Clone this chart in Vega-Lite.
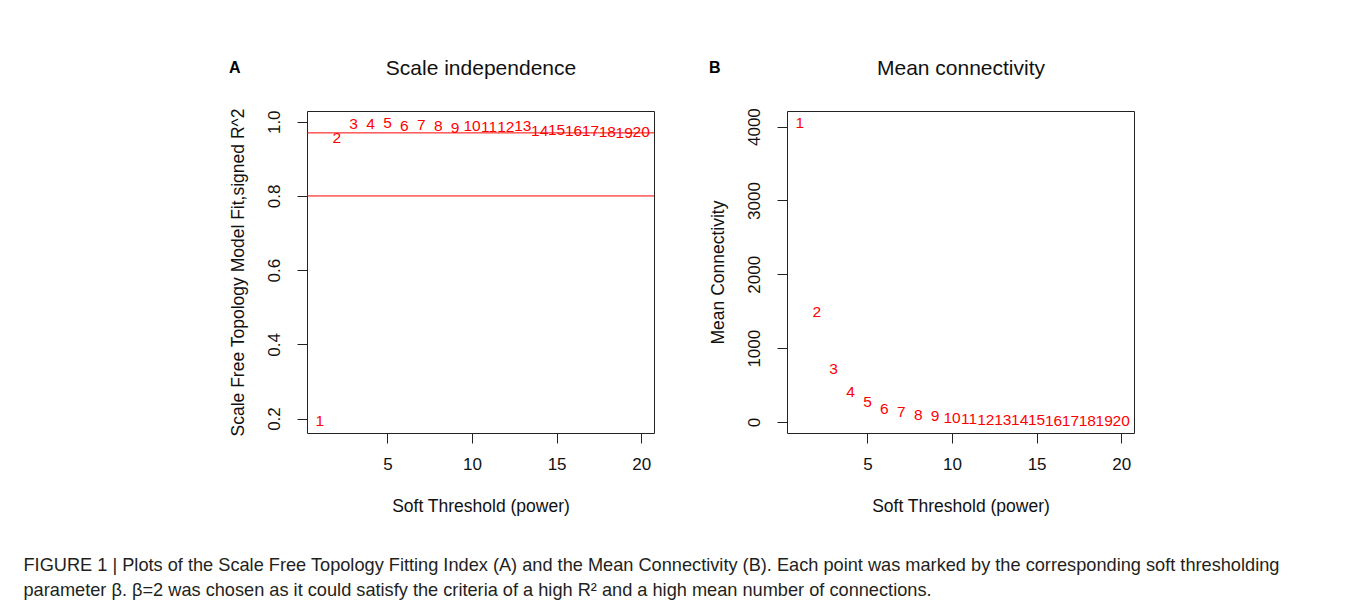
{
  "$schema": "https://vega.github.io/schema/vega-lite/v6.json",
  "background": "white",
  "padding": {"left": 23, "top": 56, "right": 10, "bottom": 5},
  "bounds": "flush",
  "spacing": 133,
  "datasets": {
    "sft": [
      {"power": 1, "r2": 0.193, "k": 4050},
      {"power": 2, "r2": 0.957, "k": 1486},
      {"power": 3, "r2": 0.993, "k": 716},
      {"power": 4, "r2": 0.993, "k": 400},
      {"power": 5, "r2": 0.997, "k": 265},
      {"power": 6, "r2": 0.989, "k": 178},
      {"power": 7, "r2": 0.990, "k": 130},
      {"power": 8, "r2": 0.988, "k": 99},
      {"power": 9, "r2": 0.984, "k": 76},
      {"power": 10, "r2": 0.988, "k": 48},
      {"power": 11, "r2": 0.986, "k": 40},
      {"power": 12, "r2": 0.986, "k": 34},
      {"power": 13, "r2": 0.988, "k": 29},
      {"power": 14, "r2": 0.975, "k": 25},
      {"power": 15, "r2": 0.979, "k": 22},
      {"power": 16, "r2": 0.975, "k": 19},
      {"power": 17, "r2": 0.975, "k": 17},
      {"power": 18, "r2": 0.973, "k": 15},
      {"power": 19, "r2": 0.970, "k": 14},
      {"power": 20, "r2": 0.972, "k": 13}
    ],
    "lines": [
      {"cut": 0.97},
      {"cut": 0.8}
    ]
  },
  "title": {
    "text": [
      "FIGURE 1 | Plots of the Scale Free Topology Fitting Index (A) and the Mean Connectivity (B). Each point was marked by the corresponding soft thresholding",
      "parameter β. β=2 was chosen as it could satisfy the criteria of a high R² and a high mean number of connections."
    ],
    "orient": "bottom",
    "anchor": "start",
    "frame": "bounds",
    "font": "Liberation Sans",
    "fontSize": 18.2,
    "fontWeight": "normal",
    "color": "#231f20",
    "lineHeight": 25,
    "offset": 42,
    "dx": -205
  },
  "hconcat": [
    {
      "width": 347,
      "height": 322,
      "title": {"text": "A", "anchor": "start", "frame": "bounds", "fontSize": 16, "fontWeight": "bold", "font": "Liberation Sans", "offset": -19, "color": "#000"},
      "data": {"name": "sft"},
      "resolve": {"axis": {"x": "independent"}},
      "layer": [
        {
          "mark": {"type": "text", "color": "#ff0000", "fontSize": 15.5, "font": "Liberation Sans", "align": "center", "baseline": "middle"},
          "encoding": {
            "x": {"field": "power", "type": "quantitative", "scale": {"domain": [0.24, 20.76], "nice": false, "zero": false},
                  "axis": {"orient": "bottom", "title": "Soft Threshold (power)", "values": [5, 10, 15, 20]}},
            "y": {"field": "r2", "type": "quantitative", "scale": {"domain": [0.161, 1.029], "nice": false, "zero": false},
                  "axis": {"title": "Scale Free Topology Model Fit,signed R^2", "values": [0.2, 0.4, 0.6, 0.8, 1.0], "format": ".1f"}},
            "text": {"field": "power", "type": "quantitative"}
          }
        },
        {
          "data": {"name": "lines"},
          "mark": {"type": "rule", "color": "#ff0000", "strokeWidth": 1},
          "encoding": {"y": {"field": "cut", "type": "quantitative"}}
        },
        {
          "mark": {"type": "text", "opacity": 0},
          "encoding": {
            "x": {"field": "power", "type": "quantitative",
                  "axis": {"orient": "top", "title": "Scale independence", "labels": false, "ticks": false, "domain": false, "titleFontSize": 21, "titlePadding": 33}}
          }
        }
      ]
    },
    {
      "width": 347,
      "height": 322,
      "title": {"text": "B", "anchor": "start", "frame": "bounds", "fontSize": 16, "fontWeight": "bold", "font": "Liberation Sans", "offset": -19, "color": "#000"},
      "data": {"name": "sft"},
      "resolve": {"axis": {"x": "independent"}},
      "layer": [
        {
          "mark": {"type": "text", "color": "#ff0000", "fontSize": 15.5, "font": "Liberation Sans", "align": "center", "baseline": "middle"},
          "encoding": {
            "x": {"field": "power", "type": "quantitative", "scale": {"domain": [0.24, 20.76], "nice": false, "zero": false},
                  "axis": {"orient": "bottom", "title": "Soft Threshold (power)", "values": [5, 10, 15, 20]}},
            "y": {"field": "k", "type": "quantitative", "scale": {"domain": [-148.5, 4211.5], "nice": false, "zero": false},
                  "axis": {"title": "Mean Connectivity", "values": [0, 1000, 2000, 3000, 4000], "format": "d"}},
            "text": {"field": "power", "type": "quantitative"}
          }
        },
        {
          "mark": {"type": "text", "opacity": 0},
          "encoding": {
            "x": {"field": "power", "type": "quantitative",
                  "axis": {"orient": "top", "title": "Mean connectivity", "labels": false, "ticks": false, "domain": false, "titleFontSize": 21, "titlePadding": 33}}
          }
        }
      ]
    }
  ],
  "config": {
    "font": "Liberation Sans",
    "view": {"stroke": "#222", "strokeWidth": 1},
    "axis": {
      "grid": false,
      "domain": false,
      "tickColor": "#222",
      "tickSize": 10,
      "labelFont": "Liberation Sans",
      "labelFontSize": 17,
      "labelColor": "#111",
      "titleFont": "Liberation Sans",
      "titleFontSize": 17.5,
      "titleFontWeight": "normal",
      "titleColor": "#111"
    },
    "axisBottom": {"labelPadding": 13, "titlePadding": 25, "labelFlush": false},
    "axisLeft": {"labelAngle": -90, "labelAlign": "center", "labelBaseline": "bottom", "labelPadding": 14, "titlePadding": 18, "labelFlush": false}
  }
}
